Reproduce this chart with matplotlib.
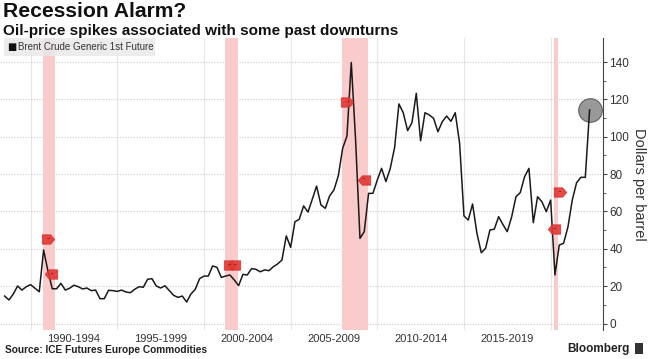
import numpy as np
import pandas as pd
import matplotlib
matplotlib.use("Agg")
import matplotlib.pyplot as plt
from matplotlib.path import Path
from matplotlib.patches import Rectangle

# ---------------- data ----------------
start_quarter = "1988-06-30"
brent = [14.7, 12.6, 15.8, 20.1, 17.9, 19.7, 20.8, 18.9, 17.0, 39.4,
         28.0, 18.6, 18.6, 21.5, 17.9, 18.9, 20.5, 19.7, 18.5, 19.0,
         17.6, 17.9, 13.3, 13.3, 17.8, 17.6, 17.2, 17.9, 16.9, 16.5,
         18.3, 19.7, 19.4, 23.7, 24.0, 20.1, 19.0, 20.2, 17.6, 15.1,
         14.0, 14.7, 11.5, 15.8, 18.3, 24.0, 25.4, 25.4, 30.8, 30.1,
         24.7, 25.4, 26.0, 23.3, 20.3, 26.3, 26.0, 29.4, 29.0, 27.7,
         28.7, 28.3, 30.4, 31.9, 34.0, 46.9, 40.8, 54.5, 55.8, 63.0,
         59.7, 66.5, 73.6, 63.5, 61.7, 68.3, 71.5, 79.0, 93.8, 100.4,
         139.8, 98.0, 45.6, 49.2, 69.7, 69.7, 76.9, 83.1, 76.0, 83.1,
         94.4, 117.6, 112.9, 103.3, 107.6, 123.3, 97.9, 112.9, 111.7, 109.9,
         102.7, 108.1, 111.1, 108.3, 112.9, 96.5, 57.6, 55.4, 64.0, 48.3,
         37.9, 40.3, 50.1, 50.5, 57.2, 53.0, 49.2, 57.0, 67.9, 70.1,
         78.6, 83.1, 54.0, 67.9, 65.2, 59.9, 66.1, 26.0, 42.0, 43.0,
         51.8, 66.1, 75.4, 78.3, 78.3, 114.4]

rec_start = [1990.69, 2001.23, 2007.94, 2020.21]
rec_end = [1991.40, 2001.94, 2009.44, 2020.44]

event_t = [1991.00, 1991.19, 2001.47, 2001.73, 2008.25, 2009.21, 2020.21, 2020.51]
event_v = [45.4, 26.6, 31.2, 31.2, 118.5, 77.1, 50.6, 70.6]
event_dir = ["r", "l", "r", "l", "r", "l", "l", "r"]

period_centers = [1992.5, 1997.5, 2002.5, 2007.5, 2012.5, 2017.5]
period_labels = ["1990-1994", "1995-1999", "2000-2004", "2005-2009", "2010-2014", "2015-2019"]
grid_years = [1990, 1995, 2000, 2005, 2010, 2015, 2020]
y_ticks = [0, 20, 40, 60, 80, 100, 120, 140]

# ---------------- figure ----------------
FONT = ["Liberation Sans", "DejaVu Sans"]
plt.rcParams["font.family"] = FONT

W, H = 649, 359
fig = plt.figure(figsize=(W / 100, H / 100), dpi=100)
ax_top, ax_bot, ax_right = 38, 330, 602.5
ax = fig.add_axes([0, 1 - ax_bot / H, ax_right / W, (ax_bot - ax_top) / H])

dates = pd.date_range(start_quarter, periods=len(brent), freq="QE")
t = np.asarray(dates.year + (dates.dayofyear - 1) / (365 + dates.is_leap_year.astype(int)))
v = np.asarray(brent)

# recession bands
for s, e in zip(rec_start, rec_end):
    ax.axvspan(s, e, color="#fac9c9", alpha=0.95, lw=0, zorder=1)

# grid
for yr in grid_years:
    ax.axvline(yr, color="#e6e6e6", lw=0.8, zorder=0.5)
ax.set_yticks(y_ticks)
ax.yaxis.grid(True, linestyle=(0, (1, 1.5)), color="#cccccc", lw=0.8)
ax.set_axisbelow(True)

# last value circle
ax.plot(t[-1:], v[-1:], "o", ms=17, mfc="#8e8e8e", mec="#555555", mew=0.8,
        alpha=0.9, zorder=3)

# price line
ax.plot(t, v, color="#1a1a1a", lw=1.1, zorder=4)

# event markers
right_tag = Path([(-1, -0.75), (0.35, -0.75), (1, 0), (0.35, 0.75), (-1, 0.75), (-1, -0.75)],
                 [Path.MOVETO, Path.LINETO, Path.LINETO, Path.LINETO, Path.LINETO, Path.CLOSEPOLY])
left_tag = Path([(1, -0.75), (-0.35, -0.75), (-1, 0), (-0.35, 0.75), (1, 0.75), (1, -0.75)],
                [Path.MOVETO, Path.LINETO, Path.LINETO, Path.LINETO, Path.LINETO, Path.CLOSEPOLY])
for et, ev, d in zip(event_t, event_v, event_dir):
    ax.plot([et], [ev], marker=right_tag if d == "r" else left_tag, ms=9,
            mfc="#e33a36", mec="#d02a28", mew=0.5, alpha=0.92, zorder=5, ls="none")
    ax.text(et, ev, "··", fontsize=5, color="#4a1010", ha="center", va="center",
            zorder=6, family="DejaVu Sans")

# axes
x0 = 1988.5 + (0 - 4.7) / 17.333
x1 = 1988.5 + (ax_right - 4.7) / 17.333
ax.set_xlim(x0, x1)
ax.set_ylim((323.5 - ax_bot) / 1.867, (323.5 - ax_top) / 1.867)

ax.set_xticks(period_centers)
ax.set_xticklabels(period_labels)
ax.tick_params(axis="x", length=0, pad=3, labelsize=8, labelcolor="#333333")

ax.yaxis.tick_right()
ax.yaxis.set_label_position("right")
ax.set_yticks(np.arange(10, 150, 20), minor=True)
ax.tick_params(axis="y", which="major", length=3, width=0.8, color="#444444",
               direction="out", pad=2, labelsize=8.5, labelcolor="#333333")
ax.tick_params(axis="y", which="minor", length=2, width=0.6, color="#444444")
ax.set_ylabel("Dollars per barrel", rotation=270, labelpad=12, fontsize=10.5, color="#333333")

for sp in ["left", "top", "bottom"]:
    ax.spines[sp].set_visible(False)
ax.spines["right"].set_color("#444444")
ax.spines["right"].set_linewidth(0.8)

# legend box
ax.add_patch(Rectangle((4 / W, 1 - 56 / H), 151 / W, 18 / H, transform=fig.transFigure,
                       facecolor="#e9e9e9", edgecolor="none", alpha=0.85, zorder=7,
                       clip_on=False))
ax.text(0.012, 0.968, "\u25a0", transform=ax.transAxes, fontsize=7, color="#111111",
        va="center", ha="left", zorder=8, family="DejaVu Sans")
ax.text(0.03, 0.968, "Brent Crude Generic 1st Future", transform=ax.transAxes,
        fontsize=7, color="#333333", va="center", ha="left", zorder=8)

# titles
fig.text(3 / W, 1 - 16.8 / H, "Recession Alarm?", fontsize=15.2, weight="bold",
         va="baseline", ha="left", color="#111111")
fig.text(3 / W, 1 - 35 / H, "Oil-price spikes associated with some past downturns",
         fontsize=11, weight="bold", va="baseline", ha="left", color="#111111")

# footer
fig.text(5 / W, 1 - 350 / H, "Source: ICE Futures Europe Commodities", fontsize=7.3,
         weight="bold", va="center", ha="left", color="#222222")
fig.text(630 / W, 1 - 349 / H, "Bloomberg", fontsize=8.5, weight="bold",
         va="center", ha="right", color="#222222")
fig.add_artist(Rectangle((635 / W, 1 - 354 / H), 8 / W, 11 / H, transform=fig.transFigure,
                         facecolor="#333333", edgecolor="none"))

fig.savefig("out.png", dpi=100)
